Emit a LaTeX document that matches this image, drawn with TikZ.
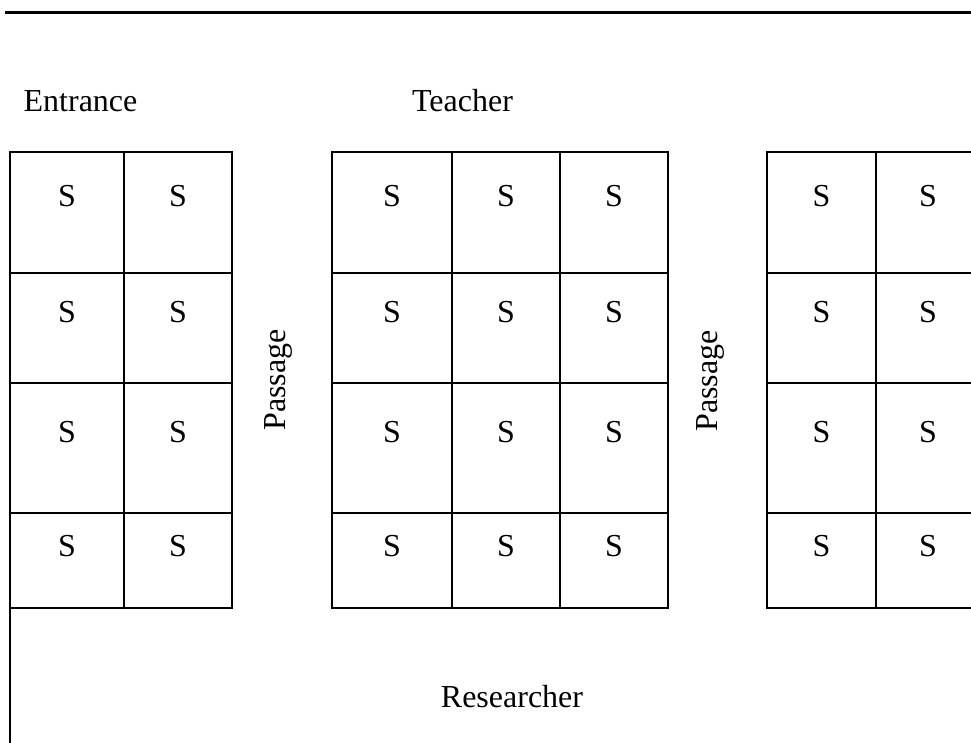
\documentclass[tikz,border=0pt]{standalone}
\usepackage{fontspec}
\setmainfont{Liberation Serif}
\usepackage{tikz}
\tikzset{
    gridLine/.style={black, line width=0.75pt},
    roomText/.style={anchor=base, inner sep=0pt, font=\fontsize{16}{19}\selectfont}
}
\tikzset{
    seatColumn/.pic={
		\draw[gridLine] (0,152) rectangle (#1,608);
		\draw[gridLine] (0,273) -- (#1,273);
		\draw[gridLine] (0,383) -- (#1,383);
		\draw[gridLine] (0,513) -- (#1,513);
		\node[roomText] (s1) at ({#1/2},207) {S};
		\node[roomText] (s2) at ({#1/2},323) {S};
		\node[roomText] (s3) at ({#1/2},443) {S};
		\node[roomText] (s4) at ({#1/2},557) {S};
	}
}
\begin{document}
\begin{tikzpicture}[x=0.5pt,y=-0.5pt]
			\useasboundingbox (0,0) rectangle (971,743);
			\clip (0,0) rectangle (971,743);
			\draw[black, line width=1.2pt] (5,12.7) -- (971,12.7);
			\pic (entA) at(10,0) {seatColumn={114}};
			\pic (entB) at(124,0) {seatColumn={108}};
			\pic (midA) at(332,0) {seatColumn={120}};
			\pic (midB) at(452,0) {seatColumn={108}};
			\pic (midC) at(560,0) {seatColumn={108}};
			\pic (rgtA) at(767,0) {seatColumn={109}};
			\pic (rgtB) at(876,0) {seatColumn={104}};
			\draw[gridLine] (10,608) -- (10,743);
			\node[roomText] (entrance) at (80.5,112) {Entrance};
			\node[roomText] (teacher) at (462.5,112) {Teacher};
			\node[roomText, rotate=90] (passageA) at (285,380) {Passage};
			\node[roomText, rotate=90] (passageB) at (717,381) {Passage};
			\node[roomText] (researcher) at (512,708) {Researcher};
		\end{tikzpicture}
\end{document}
